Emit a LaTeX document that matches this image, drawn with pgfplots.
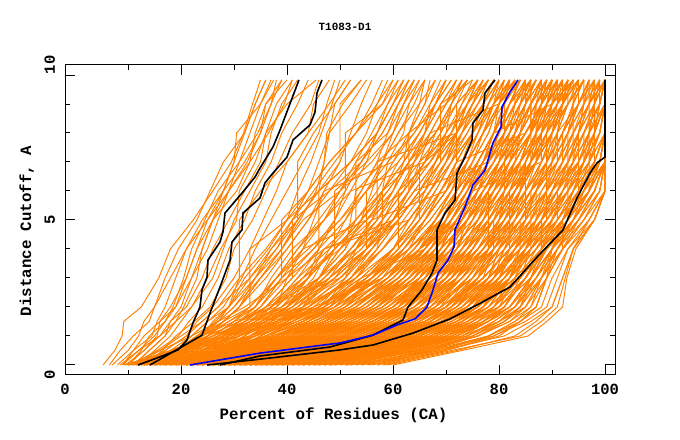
\documentclass[border=0pt]{standalone}
\usepackage{fontspec}
\setmainfont{Liberation Mono}
\usepackage{pgfplots}
\usepackage{pgfplotstable}
\pgfplotsset{compat=1.18}
\definecolor{og}{RGB}{255,128,0}
\definecolor{bl}{RGB}{0,0,255}

\pgfplotstableread{
a b c d e f g h i j k l m
0 0.5 1 1.5 2 3 4 5 6 7 8 9 9.83
5.3 7.5 8.9 9.2 12.5 15.8 18.0 22.3 26.0 29.5 31.8 33.5 35.0
6.5 8.5 11.0 14.0 15.0 17.0 19.5 23.0 25.5 28.0 32.0 34.0 36.0
9.0 11.0 14.5 15.5 17.0 19.0 21.0 24.0 28.0 30.0 30.5 35.0 37.5
10.0 12.5 14.0 17.0 18.5 20.5 22.0 24.5 27.0 31.0 34.5 37.0 38.0
9.5 13.0 15.5 16.0 19.0 22.0 25.0 27.0 29.0 32.5 35.0 36.0 40.0
11.0 14.0 17.0 19.0 20.5 23.0 24.0 26.0 30.5 33.0 36.5 39.5 41.0
12.0 15.0 18.0 20.0 22.0 25.0 27.5 30.5 31.0 34.0 36.0 40.0 45.5
10.5 15.5 19.5 21.5 24.0 27.0 29.0 32.0 34.0 37.0 39.0 42.0 44.0
13.0 16.5 19.0 22.5 25.5 28.5 30.0 33.5 36.0 38.5 41.0 44.5 46.0
12.0 17.0 21.0 23.0 26.0 30.0 33.0 35.5 38.0 40.0 44.0 45.0 48.0
14.0 18.0 22.0 25.0 28.0 31.5 34.0 37.0 40.0 43.0 46.0 47.5 49.0
15.0 19.0 23.0 26.5 29.0 32.0 36.5 40.0 42.0 44.5 46.5 48.5 50.0
11.5 16.0 20.0 24.0 27.0 33.0 38.0 41.0 44.0 46.0 48.0 49.0 52.0
13.5 18.5 24.0 28.0 31.0 35.0 39.0 42.5 45.5 47.0 47.5 50.5 54.0
7 10 12 13 15 18 21 25 28 30 32 34 36
8 11 13 16 18 21 23 26 29 31 33 35 37
9 12 16 18 20 22 24 26 28 32 35 37 39
11 14 17 18 21 24 26 29 32 35 36 38 41
8.5 12 15 17 19 21 23 25 29 33 34 36 39
10 13 16 19 22 26 28 30 33 36 37 39 42
16 20 24 27 29 33 37 41 45 49 53 56 58
18 22 25 28 31 36 40 44 48 52 55 57 60
14 21 26 30 33 38 42 47 50 53 56 59 62
20 24 28 31 34 38 44 50 54 57 59 61 63
17 23 27 32 36 41 46 51 55 59 62 63 65
19 25 30 34 37 42 48 53 57 60 63 66 67
22 27 31 35 39 44 49 54 58 61 65 68 70
21 26 32 37 41 46 50 56 60 63 66 69 72
23 29 34 38 42 47 52 57 61 65 69 72 74
24 30 35 40 44 50 55 59 63 67 71 73 76
20 27 33 39 44 52 57 61 65 69 72 75 78
25 31 36 41 46 53 58 63 67 70 74 77 80
18 24 29 36 40 46 51 52 53 58 60 62 64
26 32 38 43 47 51 53 56 58 59 64 68 71
22 28 32 36 38 40 43 45 47 50 52 54 56
15 20 24 26 29 34 39 42 46 47 48 52 55
27 33 39 44 49 55 60 64 66 68 70 71 73
28 34 40 46 51 56 61 65 69 73 76 78 81
24 29 33 37 41 48 54 58 62 64 66 67 69
19 24 30 35 40 47 53 60 63 65 67 70 72
26 33 37 40 43 46 49 55 62 66 70 74 77
29 35 41 47 52 58 62 67 71 75 78 80 82
21 26 29 33 37 43 50 55 59 63 67 70 74
30 36 42 48 53 59 64 68 72 76 79 82 84
17 22 27 31 35 39 45 49 51 54 58 61 63
18 26 33 38 42 49 55 60 64 68 72 75 78
20 29 36 41 45 52 58 63 67 71 75 79 82
22 31 39 44 48 55 61 66 70 74 77 81 84
24 33 41 47 51 57 63 69 73 77 80 83 86
19 30 38 45 50 59 65 71 75 78 82 85 88
25 35 43 49 54 61 67 72 76 80 84 87 90
27 37 45 51 56 63 69 74 78 82 86 89 92
23 34 44 52 58 66 71 76 80 84 87 90 94
28 39 48 55 60 68 74 79 83 86 89 93 96
30 41 50 57 62 70 76 81 85 88 91 95 98
26 38 47 54 59 65 70 73 75 78 80 82 85
21 32 42 50 56 64 68 70 72 76 79 80 81
31 42 51 58 63 69 73 77 80 82 83 85 87
32 44 53 60 65 71 75 78 82 85 88 89 90
29 40 49 56 61 67 72 75 77 81 85 88 91
33 45 55 62 67 73 77 81 84 86 90 92 93
24 36 46 53 58 64 67 71 74 77 79 81 83
34 46 56 63 68 74 79 83 86 89 92 94 95
35 47 57 64 70 76 81 85 87 90 93 96 97
27 38 46 52 57 62 66 69 73 75 77 79 80
36 48 58 66 71 77 82 86 88 91 94 97 99
37 50 59 67 72 78 83 87 89 92 95 98 100
30 43 52 58 62 66 69 71 74 76 79 82 86
38 51 60 68 73 79 84 88 90 93 96 99 100
32 43 51 57 61 65 68 70 72 74 77 80 83
39 52 61 68 74 80 85 88 91 94 97 100 100
25 37 48 56 62 69 72 74 76 78 81 84 87
40 53 62 69 75 81 86 89 92 95 98 100 100
34 47 56 63 68 74 78 80 81 83 86 88 89
28 41 51 59 64 70 74 77 79 82 84 85 87
35 48 58 65 69 72 75 79 83 87 90 92 93
41 54 63 70 76 82 86 90 93 96 98 99 100
36 49 57 62 66 71 76 80 84 87 88 90 92
33 46 55 61 66 72 78 82 84 85 87 91 95
29 42 53 61 66 72 77 80 82 84 86 86 88
20 35 45 53 58 66 72 77 81 84 87 89 91
22 38 48 56 61 69 75 79 83 86 88 91 93
25 40 51 59 64 72 77 82 85 88 90 92 94
27 42 54 62 67 75 80 84 87 90 92 94 96
30 45 57 64 69 77 82 86 89 92 94 96 98
32 47 59 66 71 78 84 88 91 94 96 98 100
35 50 62 69 74 80 85 90 93 96 98 100 100
37 52 64 71 76 82 87 91 94 97 99 100 100
40 55 66 73 78 84 88 92 96 98 100 100 100
42 57 68 75 80 85 89 94 97 99 100 100 100
45 60 71 78 82 87 90 95 98 100 100 100 100
47 62 73 80 84 88 91 96 99 100 100 100 100
50 65 76 82 86 89 92 97 100 100 100 100 100
52 67 78 84 88 90 93 98 100 100 100 100 100
55 69 81 86 90 92 94 98 100 100 100 100 100
58 71 84 88 91 92.5 94 97 100 100 100 100 100
60 73 85.5 89 92 92.8 94.5 98 100 100 100 100 100
24 39 50 57 62 68 72 75 78 80 82 84 85
28 44 55 61 65 70 73 76 79 81 83 84 86
33 48 58 64 68 72 75 78 81 83 84 86 88
38 53 63 68 72 76 79 82 84 86 88 89 90
43 58 67 72 75 79 82 85 87 89 90 91 92
48 63 72 77 80 83 85 87 89 90 91 92 93
53 67 76 81 84 86 88 90 92 94 95 96 97
57 70 80 84 87 89 90 92 94 96 97 98 99
18 33 43 50 55 62 66 70 73 76 79 81 82
21 36 46 52 57 63 67 70 73 76 79 82 84
26 41 52 58 63 70 75 78 81 84 86 87 89
31 46 56 62 66 71 74 77 80 83 86 88 90
36 51 60 66 70 74 78 81 84 86 88 90 91
9 20 28 35 40 48 54 59 63 67 70 73 75
10 22 31 38 44 52 58 63 67 70 73 76 79
11 24 34 42 48 56 62 67 71 74 77 80 83
12 26 37 45 51 59 65 70 73 76 79 82 85
13 28 40 48 54 62 67 72 75 78 81 84 86
14 30 42 51 57 64 69 74 77 80 83 86 89
15 32 44 53 59 66 71 76 79 82 85 88 91
16 27 36 43 48 55 60 64 67 70 72 74 76
17 29 39 46 52 60 65 68 71 73 75 77 79
10 19 26 32 36 43 49 54 58 62 65 68 70
12 21 29 36 41 49 55 60 64 68 72 75 78
14 25 33 40 46 54 60 65 69 72 75 78 80
9.5 18 25 31 37 46 53 58 62 66 69 71 73
10.5 23 33 41 47 56 62 66 70 73 76 79 81
11.5 27 38 46 52 61 66 71 74 77 80 83 85
12.5 30 43 51 57 65 70 74 78 81 84 87 90
13.5 33 46 54 60 67 72 77 81 85 88 91 94
15 35 48 56 62 69 74 79 83 87 90 93 96
16.5 37 50 58 64 71 76 81 85 89 92 95 98
18.5 39 52 60 66 73 78 83 87 91 94 97 100
19.5 34 44 51 56 63 68 72 75 79 82 85 87
21 41 54 62 68 75 80 85 89 93 96 99 100
23 43 56 64 70 77 82 87 91 94 97 100 100
26 45 58 66 72 78 84 89 93 96 99 100 100
29 47 60 68 74 80 86 91 95 98 100 100 100
31 49 62 70 76 82 87 92 96 99 100 100 100
34 52 64 72 78 84 88 93 97 100 100 100 100
39 56 67 74 80 86 90 94 98 100 100 100 100
44 59 70 77 82 87 91 95 99 100 100 100 100
49 64 74 80 85 89 92 96 100 100 100 100 100
54 68 79 85 89 91 93 97 100 100 100 100 100
59 72 83 87 90 92 94 98 100 100 100 100 100
17 31 41 48 53 60 65 69 72 74 76 78 80
20 36 47 55 60 67 71 74 77 80 83 85 86
23 40 52 59 64 70 74 78 81 84 86 89 92
27 43 54 61 66 72 76 80 83 86 89 92 94
30 47 58 65 70 75 79 83 86 89 92 95 97
35 49 59 65 69 74 78 82 86 89 92 94 96
41 57 66 72 76 81 85 89 92 95 97 99 100
46 61 71 77 81 85 88 91 94 96 98 100 100
51 65 75 80 84 87 90 93 96 98 100 100 100
56 69 78 83 86 88 90 93 95 97 99 100 100
15.5 29 38 45 50 56 61 65 68 71 73 75 77
18 32 42 49 54 61 66 70 74 77 79 81 83
22 37 48 55 60 66 69 72 75 77 80 83 85
25 42 53 60 65 71 75 79 82 85 87 90 91
28 45 57 63 67 73 77 81 84 87 89 91 93
33 50 61 67 71 76 80 84 87 90 93 95 97
38 54 64 70 74 79 83 87 90 93 95 97 99
43 59 69 74 78 82 85 88 91 93 95 97 98
48 62 72 78 82 86 89 92 94 96 98 99 100
53 66 76 82 85 88 91 94 97 99 100 100 100
14 19 23 27 30 35 40 44 47 60 64 67 70
16 21 26 30 34 39 43 55 60 63 66 68 70
19 25 29 33 36 50 56 60 63 66 68 71 73
21 27 32 36 40 45 48 51 54 57 72 76 78
23 28 34 39 43 48 52 56 70 74 77 79 81
17 22 27 31 34 37 41 47 52 55 57 60 62
25 30 35 40 45 58 64 68 71 74 77 79 82
20 26 30 34 38 43 47 60 66 70 73 77 80
22 29 35 41 46 51 55 58 61 64 67 80 84
24 31 38 44 49 54 66 71 74 77 80 83 86
18 23 28 33 37 42 46 49 52 66 72 75 77
26 34 41 47 53 59 63 66 69 72 85 89 92
27 35 43 50 55 61 65 73 77 80 83 86 88
15 20 25 29 33 38 42 46 50 54 57 59 61
29 37 45 52 57 63 68 71 74 76 79 90 94
30 39 47 54 59 66 70 74 78 81 84 87 90
20 25 31 36 40 46 51 54 56 58 61 65 66
23 30 36 42 47 52 56 60 64 78 82 85 87
16 21 25 28 31 35 39 43 50 56 60 62 64
25 32 39 46 51 56 60 63 67 71 75 79 83
28 36 44 51 56 62 67 72 76 79 82 85 85
21 27 33 38 43 49 53 57 60 62 63 65 68
31 40 48 55 60 65 69 72 75 88 91 93 96
19 24 28 32 35 40 45 50 55 58 61 64 66
32 42 50 57 62 67 70 74 79 84 88 92 95
13 17 21 24 27 31 36 40 44 48 53 57 59
27 33 38 43 48 53 57 61 65 69 73 76 79
33 43 51 58 64 69 73 76 78 80 83 86 89
22 28 33 37 40 44 47 63 67 70 72 74 76
18 24 29 34 39 44 49 54 59 63 68 71 74
34 50 61 68 73 78 80 80 84 84 86 86 86
36 52 63 70 75 80 82 82 82 87 87 88 88
38 54 65 72 77 82 84 84 89 89 89 90 90
40 56 67 74 79 84 86 86 86 91 91 92 92
42 58 69 76 81 85 88 88 93 93 93 94 94
44 60 70 77 82 86 90 90 90 95 95 96 96
46 61 72 78 83 88 92 92 97 97 97 98 98
31 48 60 67 72 77 79 79 81 81 82 83 83
29 46 58 66 71 76 78 78 78 80 81 81 82
39 55 66 72 76 80 83 85 85 88 88 91 91
41 57 67 73 77 81 84 87 87 90 90 93 93
45 60 70 75 79 83 86 89 89 92 92 95 95
47 62 72 77 81 85 88 91 91 94 94 97 97
50 64 74 79 83 87 90 93 93 96 96 99 99
37 53 64 70 74 79 81 83 85 85 87 87 89
35 51 62 69 74 78 80 82 84 86 86 88 89
43 58 68 74 78 82 85 88 90 92 94 94 96
48 63 73 78 82 86 89 92 95 95 97 97 99
51 65 75 81 84 88 91 94 96 98 98 98 98
33 49 60 66 70 75 78 81 83 86 87 88 89
10 16 22 27 32 40 47 53 58 62 66 69 72
11 18 26 33 39 48 55 61 65 69 72 75 77
12.5 20 28 36 43 53 60 65 69 72 75 78 80
13 22 31 39 46 56 63 68 72 76 79 82 84
14.5 24 34 42 49 58 64 69 73 77 80 83 86
16 26 36 44 50 57 62 66 70 73 76 79 82
17 28 38 46 52 60 66 71 75 78 81 84 87
18 30 40 48 55 63 69 74 78 82 85 88 91
19 31 41 49 55 62 67 71 74 77 79 82 84
20 33 43 51 57 65 71 76 80 84 88 91 93
21 34 45 53 59 67 73 78 82 86 89 92 95
22 36 47 55 61 68 74 79 83 87 90 93 96
23 37 48 56 62 70 76 81 85 89 92 95 97
24 38 50 58 64 71 77 82 86 90 93 96 99
25 40 51 59 65 72 78 83 87 91 94 97 100
26 41 53 61 66 73 79 84 88 92 95 98 100
27 43 54 62 68 75 80 85 89 93 96 99 100
28 44 56 63 69 76 81 86 90 94 97 100 100
29 45 57 65 70 77 82 87 91 95 98 100 100
31 46 58 66 71 78 83 88 92 96 99 100 100
32 48 60 67 72 79 84 89 93 97 100 100 100
33 49 61 68 73 80 85 90 94 98 100 100 100
34 50 62 69 74 81 86 91 95 99 100 100 100
36 51 63 70 75 82 87 92 96 100 100 100 100
37 53 64 71 76 83 88 93 97 100 100 100 100
39 54 65 72 77 83 88 92 96 99 100 100 100
41 56 67 73 78 84 89 93 97 100 100 100 100
43 58 68 75 79 85 89 94 98 100 100 100 100
46 60 70 76 80 86 90 95 99 100 100 100 100
48 62 72 78 82 86 90 94 97 100 100 100 100
51 64 74 79 83 87 91 95 98 100 100 100 100
54 66 76 81 85 88 92 96 99 100 100 100 100
57 68 78 83 87 89 92 95 98 100 100 100 100
15 27 37 45 51 59 64 68 71 74 77 80 82
17.5 30 42 51 57 65 70 74 77 80 83 86 88
20.5 35 46 54 60 66 70 73 76 78 81 84 86
23.5 39 49 57 63 69 73 76 79 82 85 88 90
26.5 42 52 60 65 70 74 77 80 83 86 88 90
29.5 44 55 62 67 72 76 79 82 84 86 87 88
32.5 47 57 64 68 73 77 80 83 85 87 89 91
35.5 50 61 67 71 75 79 82 85 87 89 90 92
38.5 52 62 68 72 76 80 83 86 88 90 92 94
42 55 65 70 74 78 81 84 87 89 91 93 95
45 58 68 73 77 80 83 86 89 91 93 95 97
49 61 71 76 79 82 85 88 91 93 95 97 98
52 64 73 78 81 84 87 90 93 95 97 98 99
55.5 67 75 80 83 86 89 92 95 97 98 99 100
58.5 70 79 84 87 89 91 94 97 99 100 100 100
13.5 21 29 36 42 50 56 61 65 68 71 74 76
16.5 25 33 40 46 54 60 64 68 71 74 77 79
19.5 28 36 43 49 57 62 66 69 72 75 77 79
22.5 32 40 47 53 60 65 69 72 75 78 80 82
25.5 36 45 52 58 64 69 72 75 78 80 82 84
28.5 40 49 56 61 66 70 73 76 79 81 83 85
31.5 43 52 58 63 68 72 75 78 81 84 86 88
34.5 46 55 61 65 70 74 77 80 83 86 89 91
37.5 49 58 64 68 73 77 81 84 87 90 92 94
40.5 53 62 67 71 76 80 84 87 90 93 95 97
44 56 65 70 74 79 83 87 90 93 96 98 100
47 59 68 73 77 82 86 90 93 96 99 100 100
12 19 23 28 33 33 33 40 46 52 57 60 62
13 20 25 31 36 41 41 41 48 54 58 61 64
12.5 19.5 24 30 38 44 49 49 49 55 60 63 66
14 20 26 33 40 47 52 57 57 57 63 66 68
13 19 22 25 29 31 31 31 35 40 44 48 51
14.5 21 27 35 43 51 56 60 63 63 63 70 73
12 18.5 24 29 34 38 43 47 51 51 51 58 61
15 21 28 36 44 53 58 62 66 69 69 69 75
13.5 20 26 32 39 46 50 53 53 53 59 62 65
12 19 25 31 35 39 39 39 44 48 53 58 60
14 21 29 38 47 55 60 65 65 65 71 74 77
13 20 27 34 41 49 55 55 55 61 65 68 71
15.5 22 30 39 48 56 61 61 61 67 71 74 78
12.5 19 23 27 30 34 37 42 42 42 45 49 52
13.5 20.5 28 37 45 52 57 58 58 64 68 72 76
14 21 27 33 37 44 46 46 46 52 57 60 63
16 22 30 38 46 55 62 66 70 72 72 72 76
12 19 24 28 31 34 38 42 46 50 50 50 54
30.5 44 56 64 70 77 82 87 91 95 98 100 100
33.5 47 59 66 71 78 83 88 92 96 99 100 100
36.5 50 61 68 73 79 84 89 93 97 100 100 100
39.5 52 63 69 74 80 85 90 94 98 100 100 100
42.5 55 65 71 76 81 86 91 95 99 100 100 100
45.5 57 67 73 77 82 87 92 96 100 100 100 100
48.5 60 69 75 79 84 88 93 97 100 100 100 100
51.5 62 71 77 81 85 89 94 98 100 100 100 100
20 30 39 47 54 62 68 73 77 80 83 86 89
22 33 42 50 56 63 69 74 78 81 84 87 90
24 35 44 52 58 64 70 75 79 83 86 89 92
26 37 46 54 60 66 71 76 80 84 87 90 93
28 39 48 56 62 68 73 78 82 86 89 92 95
30 42 51 58 63 69 74 79 83 87 90 93 96
19 27 34 41 47 56 63 69 73 77 81 84 87
21 29 36 43 49 58 65 70 74 78 82 85 88
23 31 38 45 51 59 66 71 75 79 83 86 89
25 33 40 47 53 61 67 72 76 80 84 87 90
27 35 42 49 55 62 68 73 77 81 85 88 91
29 37 44 51 56 63 69 74 78 82 86 89 92
}\raw
\pgfplotstabletranspose{\T}{\raw}

\begin{document}
\begin{tikzpicture}
\useasboundingbox (-65bp,-65bp) rectangle (615bp,375bp);
\begin{axis}[
  at={(0,0)}, anchor=south west,
  scale only axis, width=550bp, height=310bp,
  xmin=-1.887, xmax=101.887, ymin=-0.345, ymax=10.345,
  axis line style={line width=1bp},
  every tick/.style={black, line width=1bp},
  tick align=inside,
  major tick length=10bp, minor tick length=5bp,
  xtick={20,40,60,80,100}, xticklabels={20,40,60,80,100},
  minor xtick={10,30,50,70,90},
  extra x ticks={-1.887}, extra x tick labels={0},
  extra x tick style={major tick length=0pt},
  ytick={0,5,10}, yticklabels={,5,},
  minor ytick={1,2,3,4,6,7,8,9},
  extra y ticks={-0.345,10.345}, extra y tick labels={0,10},
  extra y tick style={major tick length=0pt},
  tick label style={font=\fontsize{15.5bp}{18bp}\selectfont\bfseries},
  xticklabel style={anchor=base, yshift=-20bp},
  yticklabel style={rotate=90, anchor=south, inner xsep=0pt, inner ysep=10bp, outer sep=0pt, text depth=0pt},
  /pgf/number format/assume math mode=true,
]
\pgfplotsinvokeforeach{2,...,311}{\addplot[og, line width=0.95bp] table[x index=#1, y index=1]{\T};}
\addplot[black, line width=1.6bp] coordinates {(11.89,0)(16.04,0.28)(19.43,0.52)(21.13,0.86)(22.26,1.45)(23.58,2.00)(23.96,2.59)(24.91,3.03)(25.09,3.62)(27.36,4.24)(27.92,4.59)(28.30,5.24)(31.51,5.93)(33.96,6.48)(34.91,6.79)(37.36,7.52)(38.68,8.10)(42.26,9.83)};
\addplot[black, line width=1.6bp] coordinates {(14.15,0)(19.81,0.59)(23.96,1.03)(25.47,1.79)(27.36,2.69)(29.25,3.62)(29.62,4.24)(31.51,4.66)(31.70,5.24)(34.91,5.76)(35.85,6.28)(37.36,6.62)(40.00,7.17)(41.13,7.76)(44.34,8.28)(45.28,8.72)(45.66,9.38)(46.60,9.83)};
\addplot[black, line width=1.6bp] coordinates {(24.91,0)(36.8,0.24)(50.0,0.52)(56.23,0.69)(63.77,1.10)(70.75,1.59)(75.85,2.07)(82.08,2.69)(87.17,3.72)(92.08,4.66)(94.72,5.76)(97.17,6.62)(98.49,6.97)(100,7.17)(100,9.83)};
\addplot[black, line width=1.6bp] coordinates {(27.36,0)(34.9,0.31)(48.1,0.62)(56.23,1.03)(61.89,1.55)(62.83,2.00)(65.47,2.59)(67.36,3.17)(68.30,3.62)(68.30,4.66)(69.81,5.24)(71.70,5.69)(72.08,6.62)(73.58,7.17)(74.91,7.76)(75.09,8.34)(76.98,8.79)(77.36,9.38)(79.25,9.83)};
\addplot[bl, line width=1.6bp] coordinates {(21.70,0)(34.91,0.41)(50.0,0.76)(56.23,1.03)(60.75,1.38)(64.15,1.59)(66.42,2.00)(67.55,2.59)(68.49,3.17)(70.38,3.62)(71.51,4.07)(71.70,4.66)(73.58,5.45)(75.09,6.21)(77.36,6.72)(78.87,7.66)(80.38,8.21)(80.57,8.90)(82.08,9.41)(83.58,9.83)};
\end{axis}
\node[font=\fontsize{11bp}{13bp}\selectfont\bfseries] at (280bp,348bp) {T1083-D1};
\node[font=\fontsize{15.8bp}{18bp}\selectfont\bfseries, anchor=base] at (268.5bp,-44bp) {Percent of Residues (CA)};
\node[font=\fontsize{15.8bp}{18bp}\selectfont\bfseries, rotate=90, anchor=base] at (-34bp,144bp) {Distance Cutoff, A};
\end{tikzpicture}
\end{document}
